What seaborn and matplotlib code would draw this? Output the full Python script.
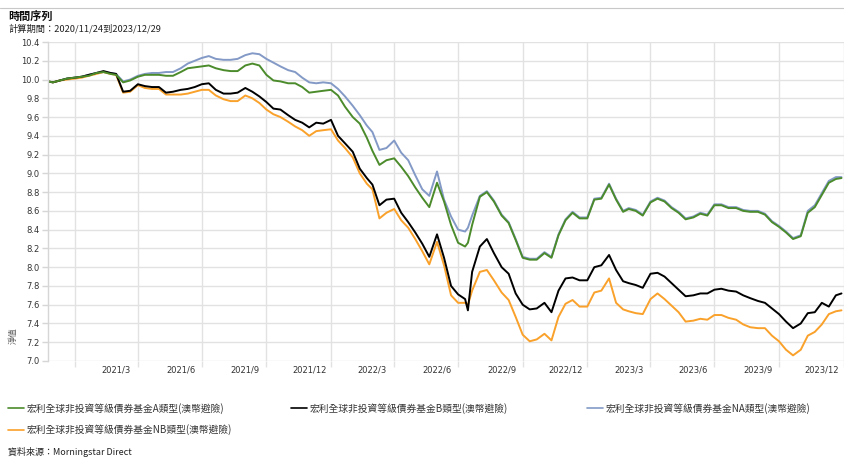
import matplotlib
matplotlib.use('Agg')
import matplotlib.pyplot as plt
import matplotlib.dates as mdates
from matplotlib.lines import Line2D
from matplotlib.ticker import FuncFormatter
import seaborn as sns
import pandas as pd
import numpy as np

# ---------------- data ----------------
dates = [
    "2020-11-24",
    "2020-12-01", "2020-12-11", "2020-12-21",
    "2021-01-01", "2021-01-11", "2021-01-21",
    "2021-02-01", "2021-02-11", "2021-02-21",
    "2021-03-01", "2021-03-11", "2021-03-21",
    "2021-04-01", "2021-04-11", "2021-04-21",
    "2021-05-01", "2021-05-11", "2021-05-21",
    "2021-06-01", "2021-06-11", "2021-06-21",
    "2021-07-01", "2021-07-11", "2021-07-21",
    "2021-08-01", "2021-08-11", "2021-08-21",
    "2021-09-01", "2021-09-11", "2021-09-21",
    "2021-10-01", "2021-10-11", "2021-10-21",
    "2021-11-01", "2021-11-11", "2021-11-21",
    "2021-12-01", "2021-12-11", "2021-12-21",
    "2022-01-01", "2022-01-11", "2022-01-21",
    "2022-02-01", "2022-02-11", "2022-02-21",
    "2022-03-01", "2022-03-11", "2022-03-21",
    "2022-04-01", "2022-04-11", "2022-04-21",
    "2022-05-01", "2022-05-11", "2022-05-21",
    "2022-06-01", "2022-06-11", "2022-06-21",
    "2022-07-01", "2022-07-11", "2022-07-15", "2022-07-21",
    "2022-08-01", "2022-08-11", "2022-08-21",
    "2022-09-01", "2022-09-11", "2022-09-21",
    "2022-10-01", "2022-10-11", "2022-10-21",
    "2022-11-01", "2022-11-11", "2022-11-21",
    "2022-12-01", "2022-12-11", "2022-12-21",
    "2023-01-01", "2023-01-11", "2023-01-21",
    "2023-02-01", "2023-02-11", "2023-02-21",
    "2023-03-01", "2023-03-11", "2023-03-21",
    "2023-04-01", "2023-04-11", "2023-04-21",
    "2023-05-01", "2023-05-11", "2023-05-21",
    "2023-06-01", "2023-06-11", "2023-06-21",
    "2023-07-01", "2023-07-11", "2023-07-21",
    "2023-08-01", "2023-08-11", "2023-08-21",
    "2023-09-01", "2023-09-11", "2023-09-21",
    "2023-10-01", "2023-10-11", "2023-10-21",
    "2023-11-01", "2023-11-11", "2023-11-21",
    "2023-12-01", "2023-12-11", "2023-12-21", "2023-12-29",
]

fund_a = [
    9.98,
    9.97, 9.99, 10.01,
    10.02, 10.03, 10.04,
    10.07, 10.08, 10.06,
    10.05, 9.97, 9.99,
    10.03, 10.05, 10.05,
    10.05, 10.04, 10.04,
    10.08, 10.12, 10.13,
    10.14, 10.15, 10.12,
    10.10, 10.09, 10.09,
    10.15, 10.17, 10.15,
    10.05, 9.99, 9.98,
    9.96, 9.96, 9.92,
    9.86, 9.87, 9.88,
    9.89, 9.83, 9.71,
    9.60, 9.53, 9.38,
    9.24, 9.09, 9.14,
    9.16, 9.07, 8.97,
    8.85, 8.74, 8.64,
    8.90, 8.70, 8.45,
    8.26, 8.22, 8.26, 8.45,
    8.75, 8.80, 8.70,
    8.55, 8.47, 8.29,
    8.10, 8.08, 8.08,
    8.15, 8.10, 8.34,
    8.50, 8.58, 8.52,
    8.52, 8.72, 8.73,
    8.88, 8.72, 8.59,
    8.62, 8.60, 8.55,
    8.69, 8.73, 8.70,
    8.63, 8.58, 8.51,
    8.53, 8.57, 8.55,
    8.66, 8.66, 8.63,
    8.63, 8.60, 8.59,
    8.59, 8.56, 8.48,
    8.43, 8.37, 8.30,
    8.33, 8.58, 8.64,
    8.77, 8.90, 8.94, 8.95,
]

fund_na = [
    9.98,
    9.97, 9.99, 10.01,
    10.02, 10.03, 10.05,
    10.07, 10.08, 10.07,
    10.06, 9.98, 10.00,
    10.04, 10.06, 10.07,
    10.07, 10.08, 10.08,
    10.12, 10.17, 10.20,
    10.23, 10.25, 10.22,
    10.21, 10.21, 10.22,
    10.26, 10.28, 10.27,
    10.22, 10.18, 10.14,
    10.10, 10.08, 10.02,
    9.97, 9.96, 9.97,
    9.96, 9.90, 9.82,
    9.72, 9.62, 9.51,
    9.44, 9.25, 9.27,
    9.35, 9.22, 9.14,
    8.98, 8.83, 8.76,
    9.02, 8.72, 8.54,
    8.40, 8.38, 8.42, 8.55,
    8.76, 8.81, 8.71,
    8.56, 8.48, 8.30,
    8.11, 8.09, 8.09,
    8.16, 8.11, 8.35,
    8.51, 8.59, 8.53,
    8.53, 8.73, 8.74,
    8.89, 8.73, 8.60,
    8.63, 8.61, 8.56,
    8.70, 8.74, 8.71,
    8.64, 8.59, 8.52,
    8.54, 8.58, 8.56,
    8.67, 8.67, 8.64,
    8.64, 8.61, 8.60,
    8.60, 8.57, 8.49,
    8.44, 8.38, 8.31,
    8.34, 8.60, 8.66,
    8.79, 8.92, 8.96, 8.96,
]

fund_b = [
    9.98,
    9.97, 9.99, 10.01,
    10.02, 10.03, 10.05,
    10.07, 10.09, 10.07,
    10.06, 9.87, 9.88,
    9.95, 9.93, 9.92,
    9.92, 9.86, 9.87,
    9.89, 9.90, 9.92,
    9.95, 9.96, 9.89,
    9.85, 9.85, 9.86,
    9.91, 9.87, 9.82,
    9.76, 9.69, 9.68,
    9.62, 9.57, 9.54,
    9.49, 9.54, 9.53,
    9.57, 9.40, 9.32,
    9.23, 9.05, 8.95,
    8.88, 8.66, 8.72,
    8.73, 8.58, 8.48,
    8.37, 8.25, 8.11,
    8.35, 8.10, 7.80,
    7.71, 7.66, 7.54, 7.95,
    8.22, 8.30, 8.15,
    8.00, 7.93, 7.72,
    7.60, 7.55, 7.56,
    7.62, 7.52, 7.75,
    7.88, 7.89, 7.86,
    7.86, 8.00, 8.02,
    8.13, 7.97, 7.85,
    7.83, 7.81, 7.78,
    7.93, 7.94, 7.90,
    7.83, 7.76, 7.69,
    7.70, 7.72, 7.72,
    7.76, 7.77, 7.75,
    7.74, 7.70, 7.67,
    7.64, 7.62, 7.56,
    7.50, 7.42, 7.35,
    7.40, 7.51, 7.52,
    7.62, 7.58, 7.70, 7.72,
]

fund_nb = [
    9.98,
    9.97, 9.99, 10.00,
    10.01, 10.02, 10.04,
    10.06, 10.08, 10.06,
    10.05, 9.86, 9.87,
    9.94, 9.91, 9.90,
    9.90, 9.84, 9.84,
    9.84, 9.85, 9.87,
    9.89, 9.89, 9.83,
    9.79, 9.77, 9.77,
    9.83, 9.80, 9.75,
    9.68, 9.63, 9.60,
    9.55, 9.50, 9.46,
    9.40, 9.45, 9.46,
    9.47, 9.35, 9.27,
    9.17, 9.00, 8.89,
    8.83, 8.52, 8.58,
    8.62, 8.50, 8.42,
    8.30, 8.17, 8.03,
    8.27, 8.02, 7.70,
    7.62, 7.62, 7.60, 7.75,
    7.95, 7.97, 7.86,
    7.73, 7.65, 7.47,
    7.28, 7.21, 7.23,
    7.29, 7.22, 7.47,
    7.61, 7.65, 7.58,
    7.58, 7.73, 7.75,
    7.88, 7.62, 7.55,
    7.53, 7.51, 7.50,
    7.66, 7.72, 7.66,
    7.59, 7.52, 7.42,
    7.43, 7.45, 7.44,
    7.49, 7.49, 7.46,
    7.44, 7.39, 7.36,
    7.35, 7.35, 7.27,
    7.21, 7.12, 7.06,
    7.12, 7.27, 7.31,
    7.39, 7.50, 7.53, 7.54,
]

x_tick_dates = ["2021-03-01", "2021-06-01", "2021-09-01", "2021-12-01",
                "2022-03-01", "2022-06-01", "2022-09-01", "2022-12-01",
                "2023-03-01", "2023-06-01", "2023-09-01", "2023-12-01"]
x_tick_labels = ["2021/3", "2021/6", "2021/9", "2021/12",
                 "2022/3", "2022/6", "2022/9", "2022/12",
                 "2023/3", "2023/6", "2023/9", "2023/12"]
y_ticks = [7.0, 7.2, 7.4, 7.6, 7.8, 8.0, 8.2, 8.4, 8.6, 8.8,
           9.0, 9.2, 9.4, 9.6, 9.8, 10.0, 10.2, 10.4]

name_a = "宏利全球非投資等級債券基金A類型(澳幣避險)"
name_b = "宏利全球非投資等級債券基金B類型(澳幣避險)"
name_na = "宏利全球非投資等級債券基金NA類型(澳幣避險)"
name_nb = "宏利全球非投資等級債券基金NB類型(澳幣避險)"

colors = {name_a: "#4b8b2b", name_b: "#000000", name_na: "#8399c6", name_nb: "#f9a12a"}

title_text = "時間序列"
period_text = "計算期間：2020/11/24到2023/12/29"
source_text = "資料來源：Morningstar Direct"
ylabel_text = "淨值"

# ---------------- figure ----------------
sns.set_theme(style="white")
plt.rcParams["font.family"] = ["Noto Sans CJK TC", "DejaVu Sans"]

W, H = 845, 457
fig = plt.figure(figsize=(W / 100, H / 100), dpi=100)
ax = fig.add_axes([48 / W, 1 - 361 / H, (845 - 48) / W, (361 - 42) / H])

df = pd.DataFrame({
    "date": pd.to_datetime(dates),
    name_a: fund_a, name_b: fund_b, name_na: fund_na, name_nb: fund_nb,
}).melt(id_vars="date", var_name="series", value_name="value")

sns.lineplot(data=df, x="date", y="value", hue="series",
             hue_order=[name_na, name_nb, name_b, name_a],
             palette=colors, linewidth=1.4, ax=ax, legend=False)

ax.set_xlim(pd.Timestamp("2020-11-24"), pd.Timestamp("2024-01-03"))
ax.set_ylim(7.0, 10.4)
ax.set_yticks(y_ticks)
ax.set_yticklabels([f"{v:.1f}" for v in y_ticks])

ax.set_xticks(pd.to_datetime(x_tick_dates))
ax.set_xticklabels(x_tick_labels)
ax.xaxis.set_minor_locator(mdates.MonthLocator(bymonth=[1, 4, 7, 10]))

grid_c = "#e2e2e2"
ax.grid(False)
ax.yaxis.grid(True, which="major", color=grid_c, linewidth=1.0)
ax.xaxis.grid(True, which="minor", color=grid_c, linewidth=1.0)
ax.set_axisbelow(True)

for s in ["top", "right", "bottom"]:
    ax.spines[s].set_visible(False)
ax.spines["left"].set_color("#d6d6d6")
ax.spines["left"].set_linewidth(1.0)

ax.tick_params(axis="x", which="major", length=0, pad=3, labelsize=6, labelcolor="#333333")
ax.tick_params(axis="x", which="minor", length=4, width=1.0, color=grid_c, bottom=True)
ax.tick_params(axis="y", which="major", length=4, width=1.0, color="#d6d6d6",
               pad=2, labelsize=6, labelcolor="#333333", left=True)
for lab in ax.get_xticklabels() + ax.get_yticklabels():
    lab.set_family("DejaVu Sans")

ax.set_xlabel("")
ax.set_ylabel("")

# header / texts
fig.add_artist(Line2D([0, 1], [1 - 8 / H, 1 - 8 / H], color="#c8c8c8", linewidth=0.8))
fig.text(8 / W, 1 - 16 / H, title_text, fontsize=8, fontweight="bold", va="center", ha="left", color="#111111")
fig.text(8 / W, 1 - 29 / H, period_text, fontsize=6.7, va="center", ha="left", color="#222222")
fig.text(13 / W, 1 - 336 / H, ylabel_text, fontsize=6, rotation=90, va="center", ha="center", color="#555555")
fig.text(8 / W, 1 - 452 / H, source_text, fontsize=6.5, va="center", ha="left", color="#222222")

# legend: three columns placed like the reference
leg_kw = dict(loc="upper left", frameon=False, fontsize=7, handlelength=1.6,
              handletextpad=0.35, labelspacing=1.05, borderaxespad=0.0,
              borderpad=0.0, labelcolor="#333333")
columns = [([name_a, name_nb], 8), ([name_b], 291), ([name_na], 587)]
for names, xpix in columns:
    hs = [Line2D([0], [0], color=colors[n], linewidth=1.2) for n in names]
    fig.legend(hs, names, bbox_to_anchor=(xpix / W, 1 - 403 / H), **leg_kw)

fig.savefig("out.png", dpi=100)
